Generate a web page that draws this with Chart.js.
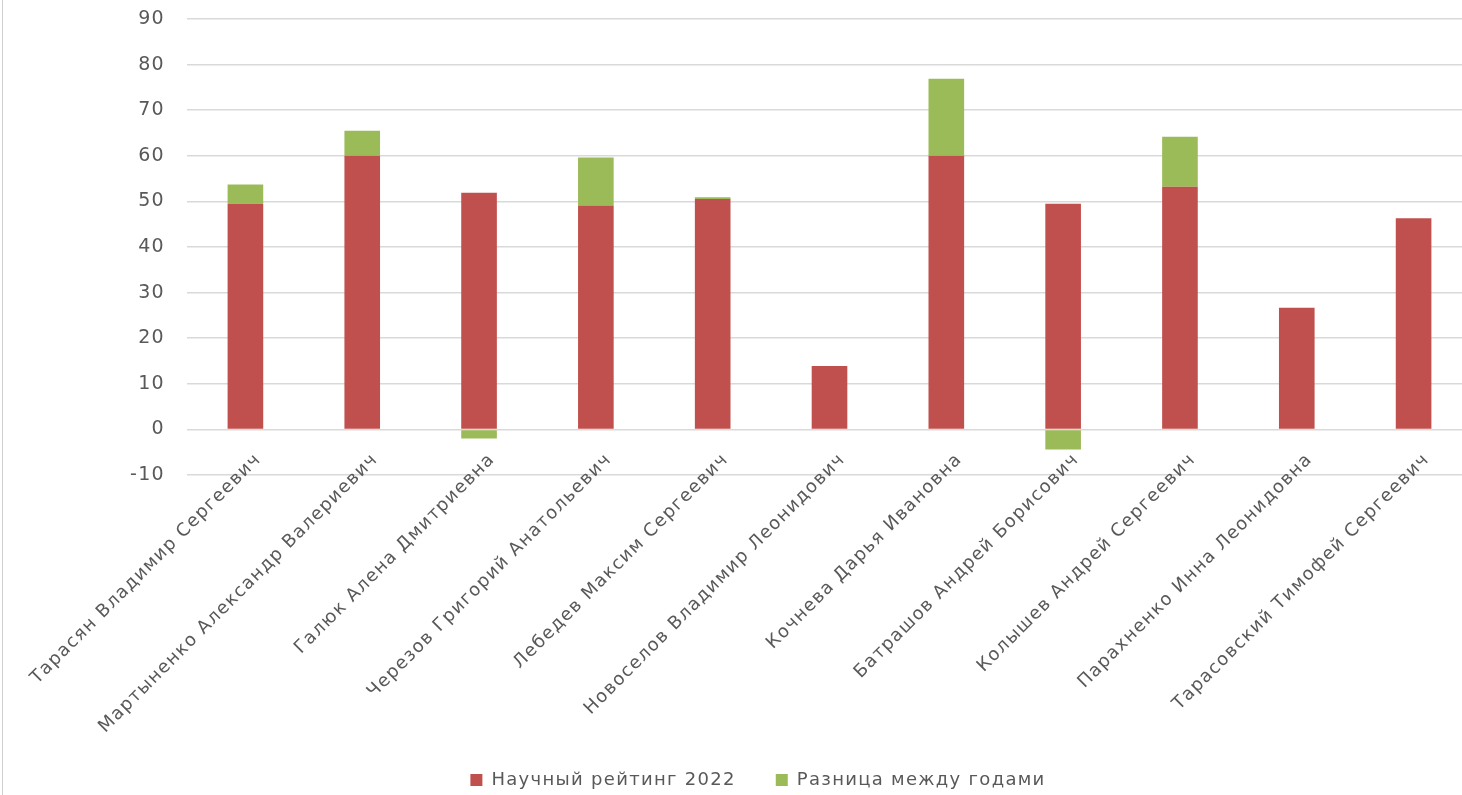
<!DOCTYPE html>
<html>
<head>
<meta charset="utf-8">
<script src="https://cdn.jsdelivr.net/npm/chart.js@4"></script>
<style>
  html, body { margin: 0; padding: 0; background: #fff; overflow: hidden; }
  #wrap { position: absolute; left: 0; top: 0; width: 1476px; height: 803px; }
  #edge { position: absolute; left: 2px; top: 0; width: 1px; height: 795px; background: #d0d0d0; }
</style>
</head>
<body>
<div id="wrap"><canvas id="bar-chart"></canvas></div>
<div id="edge"></div>
<script>
const names = [
  "Тарасян Владимир Сергеевич",
  "Мартыненко Александр Валериевич",
  "Галюк Алена Дмитриевна",
  "Черезов Григорий Анатольевич",
  "Лебедев Максим Сергеевич",
  "Новоселов Владимир Леонидович",
  "Кочнева Дарья Ивановна",
  "Батрашов Андрей Борисович",
  "Колышев Андрей Сергеевич",
  "Парахненко Инна Леонидовна",
  "Тарасовский Тимофей Сергеевич"
]
const rating2022 = [49.5, 60, 51.9, 49.1, 50.5, 13.9, 60, 49.5, 53.2, 26.7, 46.3]
const yearDiff = [4.2, 5.5, -2.0, 10.5, 0.4, 0, 16.9, -4.4, 11, 0, 0]
const seriesNames = ["Научный рейтинг 2022", "Разница между годами"]

const ctx = document.getElementById("bar-chart").getContext("2d");
const fontFamily = "'DejaVu Sans', sans-serif";

// spaced-out lettering like the Excel original
const spacing = {
  id: "spacing",
  beforeLayout(chart) { chart.ctx.letterSpacing = "1.3px"; },
  beforeDraw(chart) { chart.ctx.letterSpacing = "1.3px"; }
};

let bar_chart = new Chart(ctx, {
  type: "bar",
  plugins: [spacing],
  data: {
    labels: names,
    datasets: [
      {
        label: seriesNames[0],
        data: rating2022,
        backgroundColor: "#c0504d",
        borderWidth: 0,
        categoryPercentage: 1,
        barPercentage: 0.305
      },
      {
        label: seriesNames[1],
        data: yearDiff,
        backgroundColor: "#9bbb59",
        borderWidth: 0,
        categoryPercentage: 1,
        barPercentage: 0.305
      }
    ]
  },
  options: {
    responsive: true,
    maintainAspectRatio: false,
    animation: false,
    layout: {
      padding: { left: 44, right: 4, top: 0, bottom: 4 }
    },
    plugins: {
      legend: {
        position: "bottom",
        labels: {
          boxWidth: 12,
          boxHeight: 12,
          padding: 40,
          color: "#595959",
          font: { family: fontFamily, size: 18 }
        }
      },
      tooltip: { enabled: false }
    },
    scales: {
      x: {
        stacked: true,
        grid: { display: false, drawTicks: false },
        border: { display: false },
        ticks: {
          autoSkip: false,
          maxRotation: 45,
          minRotation: 45,
          padding: -26,
          labelOffset: 13,
          color: "#595959",
          font: { family: fontFamily, size: 18 }
        },
        afterFit: function(scale) {
          scale.height = 256;
          // labels hang from the zero line, so don't clip them to the axis box
          scale._computeLabelArea = function() { return undefined; };
        }
      },
      y: {
        stacked: true,
        min: -10,
        max: 90,
        grid: { color: "#d9d9d9", lineWidth: 1.5, drawTicks: false },
        border: { display: false },
        ticks: {
          stepSize: 10,
          padding: 22,
          color: "#595959",
          font: { family: fontFamily, size: 19 }
        },
        afterFit: function(scale) {
          scale.width = 143;
          scale.paddingTop = 19;
        }
      }
    }
  }
});
</script>
</body>
</html>
